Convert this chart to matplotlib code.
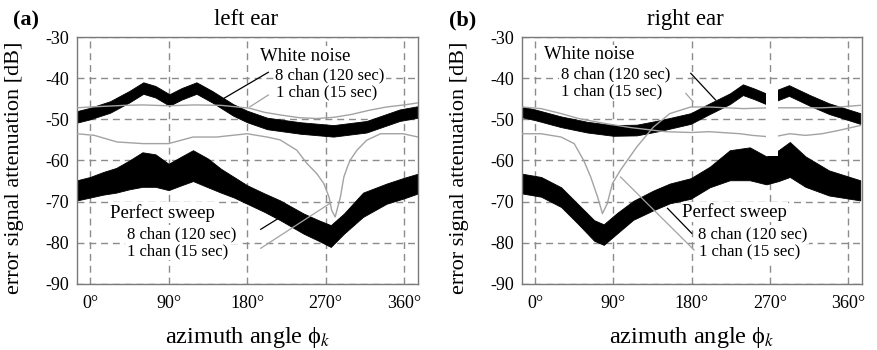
import matplotlib
matplotlib.use('Agg')
import matplotlib.pyplot as plt
from matplotlib.patches import Rectangle

plt.rcParams['font.family'] = ['Liberation Serif', 'DejaVu Serif']
plt.rcParams['mathtext.fontset'] = 'stix'

# ---------------- axis ticks ----------------
x_ticks = [0, 90, 180, 270, 360]
x_tick_labels = ['0°', '90°', '180°', '270°', '360°']
y_ticks = [-30, -40, -50, -60, -70, -80, -90]
y_tick_labels = ['-30', '-40', '-50', '-60', '-70', '-80', '-90']

# ---------------- left ear ----------------
# white noise, 8 chan (black band: upper / lower envelope)
L_wn8_az = [-15, 0, 23, 45, 61, 75, 91, 105, 122, 140, 164, 180, 203, 241, 279, 317, 355, 376]
L_wn8_hi = [-48.0, -47.2, -45.6, -43.1, -41.0, -41.9, -43.9, -42.4, -41.0, -43.1, -46.3, -47.9,
            -49.6, -50.7, -51.4, -50.4, -47.6, -46.8]
L_wn8_lo = [-50.8, -50.0, -48.4, -45.9, -43.8, -44.7, -46.7, -45.2, -43.8, -45.9, -49.1, -50.7,
            -52.4, -53.5, -54.2, -53.2, -50.4, -49.6]
# white noise, 1 chan (gray line)
L_wn1_az = [-15, 0, 20, 40, 60, 90, 120, 150, 183, 200, 220, 240, 260, 280, 300, 320, 340, 360, 376]
L_wn1 = [-47.2, -47.0, -46.8, -46.6, -46.5, -46.7, -46.5, -46.6, -47.3, -48.3, -49.0, -49.6, -49.8,
         -49.5, -48.8, -47.8, -47.0, -46.5, -46.0]
# perfect sweep, 8 chan (black band)
L_ps8_az = [-15, 0, 15, 30, 45, 60, 75, 90, 105, 118, 135, 150, 165, 180, 200, 218, 245, 262, 276,
            291, 313, 340, 360, 376]
L_ps8_hi = [-64.8, -64.0, -62.8, -61.8, -60.0, -58.0, -58.5, -60.8, -59.0, -57.5, -59.5, -62.0,
            -64.0, -66.0, -68.0, -69.7, -72.9, -74.5, -75.7, -72.9, -67.8, -65.6, -64.2, -63.2]
L_ps8_lo = [-69.7, -69.0, -68.3, -67.8, -67.0, -66.4, -66.4, -67.2, -66.0, -65.0, -66.5, -67.8,
            -69.0, -70.5, -72.5, -74.5, -77.8, -79.5, -81.0, -77.8, -73.7, -70.5, -69.2, -68.0]
# perfect sweep, 1 chan (gray line)
L_ps1_az = [-15, 5, 31, 61, 90, 118, 145, 180, 203, 218, 237, 249, 260, 268, 274, 277, 281, 287,
            291, 295, 298, 306, 317, 333, 359, 376]
L_ps1 = [-53.5, -53.9, -55.5, -55.9, -55.9, -54.3, -54.3, -53.5, -54.3, -55.0, -57.5, -60.8, -63.2,
         -65.6, -68.9, -72.1, -73.7, -68.9, -64.0, -61.6, -60.0, -57.5, -55.1, -53.5, -53.5, -54.3]

# ---------------- right ear ----------------
R_wn8_az = [-15, 0, 30, 60, 90, 117, 144, 179, 201, 224, 239, 252, 268, 280, 292, 316, 338, 374]
R_wn8_hi = [-46.9, -47.6, -49.3, -50.6, -51.4, -51.3, -50.2, -48.5, -46.1, -43.7, -41.5, -42.5,
            -43.9, -42.7, -41.7, -44.1, -46.1, -48.5]
R_wn8_lo = [-49.5, -50.2, -51.9, -53.2, -54.0, -53.9, -52.8, -51.1, -48.7, -46.3, -44.1, -45.1,
            -46.5, -45.3, -44.3, -46.7, -48.7, -51.1]
R_wn1_az = [-15, 7, 30, 50, 80, 110, 150, 180, 200, 236, 250, 273, 293, 311, 330, 349, 374]
R_wn1 = [-47.0, -47.4, -48.6, -49.8, -51.0, -52.0, -53.0, -53.2, -53.0, -53.5, -53.9, -54.3, -53.5,
         -53.9, -53.5, -52.7, -51.5]
R_ps8_az = [-15, 7, 30, 49, 68, 79, 94, 113, 136, 155, 179, 201, 224, 247, 266, 280, 293, 311, 338, 374]
R_ps8_hi = [-63.2, -64.0, -66.5, -70.5, -74.5, -75.5, -72.8, -69.8, -67.3, -65.6, -64.3, -61.5,
            -57.5, -56.8, -59.0, -57.5, -55.5, -59.0, -62.4, -64.8]
R_ps8_lo = [-68.0, -68.8, -71.3, -75.3, -79.5, -80.5, -77.8, -74.4, -72.1, -70.4, -69.3, -66.5,
            -64.8, -64.8, -65.8, -65.0, -64.0, -66.4, -68.5, -69.7]
R_ps1_az = [-15, 7, 30, 45, 56, 64, 72, 77.5, 83, 89, 98, 117, 136, 155, 179, 200, 240, 270, 300,
            330, 350, 374]
R_ps1 = [-53.5, -53.5, -54.3, -55.9, -60.0, -64.0, -68.9, -72.9, -70.5, -65.6, -62.4, -56.7, -51.9,
         -48.6, -47.0, -47.0, -47.4, -47.2, -47.2, -47.2, -47.0, -46.6]

panels = [
    dict(tag='(a)', title='left ear',
         wn8=(L_wn8_az, L_wn8_hi, L_wn8_lo), wn1=(L_wn1_az, L_wn1),
         ps8=(L_ps8_az, L_ps8_hi, L_ps8_lo), ps1=(L_ps1_az, L_ps1),
         wn_text=(194.9, -35.76, 212.1, -40.27, 213.3, -44.5),
         wn_ptr_k=((204.4, 150.2), (-38.57, -45.3)),
         wn_ptr_g=((204.4, 183.4), (-44.09, -46.93)),
         ps_text=(22.9, -73.89, 42.1, -78.9, 42.8, -82.95),
         ps_ptr_k=((195.7, 220.9), (-76.71, -73.41)),
         ps_ptr_g=((195.7, 275.2), (-81.32, -70.39)),
         gap=None),
    dict(tag='(b)', title='right ear',
         wn8=(R_wn8_az, R_wn8_hi, R_wn8_lo), wn1=(R_wn1_az, R_wn1),
         ps8=(R_ps8_az, R_ps8_hi, R_ps8_lo), ps1=(R_ps1_az, R_ps1),
         wn_text=(10.3, -35.42, 29.4, -40.03, 29.4, -44.26),
         wn_ptr_k=((179.1, 207.6), (-38.82, -45.3)),
         wn_ptr_g=((173.4, 181.7), (-43.7, -45.7)),
         ps_text=(168.8, -73.65, 187.8, -78.9, 188.6, -83.12),
         ps_ptr_k=((152.3, 180.2), (-71.61, -77.68)),
         ps_ptr_g=((98.3, 182.9), (-64.0, -81.74)),
         gap=(266, 279, -58.8, -41.3)),
]

fig = plt.figure(figsize=(8.77, 3.5), dpi=100)
ax_rects = [[77 / 877, 1 - 284 / 350, 341 / 877, 247 / 350],
            [522 / 877, 1 - 284 / 350, 340 / 877, 247 / 350]]
tag_pos = [(13 / 877, 1 - 25 / 350), (449 / 877, 1 - 25 / 350)]
title_pos = [(246 / 877, 1 - 25 / 350), (685 / 877, 1 - 25 / 350)]

gray = '#a3a3a3'
gridc = '#8c8c8c'
box = dict(fc='white', ec='none', pad=1.0)

for i, p in enumerate(panels):
    ax = fig.add_axes(ax_rects[i])
    ax.set_xlim(-15, 376)
    ax.set_ylim(-90, -30)
    ax.set_xticks(x_ticks)
    ax.set_xticklabels(x_tick_labels)
    ax.set_yticks(y_ticks)
    ax.set_yticklabels(y_tick_labels)
    ax.tick_params(length=0, labelsize=13)
    ax.tick_params(axis='x', pad=8)
    ax.tick_params(axis='y', pad=6)
    ax.set_axisbelow(True)
    ax.grid(True, color=gridc, linestyle=(0, (5, 3.5)), linewidth=1.0)
    for s in ax.spines.values():
        s.set_color('#7a7a7a')
        s.set_linewidth(1.0)

    az, hi, lo = p['wn8']
    ax.fill_between(az, lo, hi, color='black', lw=0.6, zorder=2)
    az, hi, lo = p['ps8']
    ax.fill_between(az, lo, hi, color='black', lw=0.6, zorder=2)
    az, v = p['wn1']
    ax.plot(az, v, color=gray, lw=1.0, zorder=3)
    az, v = p['ps1']
    ax.plot(az, v, color=gray, lw=1.0, zorder=3)

    if p['gap'] is not None:
        x0, x1, y0, y1 = p['gap']
        ax.add_patch(Rectangle((x0, y0), x1 - x0, y1 - y0, fc='white', ec='none', zorder=3.5))

    # annotations
    t = p['wn_text']
    ax.text(t[0], t[1], 'White noise', fontsize=13.5, zorder=4, bbox=box)
    ax.text(t[2], t[3], '8 chan (120 sec)', fontsize=12, zorder=4, bbox=box)
    ax.text(t[4], t[5], '1 chan (15 sec)', fontsize=12, zorder=4, bbox=box)
    t = p['ps_text']
    ax.text(t[0], t[1], 'Perfect sweep', fontsize=13.5, zorder=4, bbox=box)
    ax.text(t[2], t[3], '8 chan (120 sec)', fontsize=12, zorder=4, bbox=box)
    ax.text(t[4], t[5], '1 chan (15 sec)', fontsize=12, zorder=4, bbox=box)
    ax.plot(*p['wn_ptr_k'], color='black', lw=0.9, zorder=5)
    ax.plot(*p['wn_ptr_g'], color=gray, lw=0.9, zorder=5)
    ax.plot(*p['ps_ptr_k'], color='black', lw=0.9, zorder=5)
    ax.plot(*p['ps_ptr_g'], color=gray, lw=0.9, zorder=5)

    ax.set_ylabel('error signal attenuation [dB]', fontsize=16)
    ax.yaxis.set_label_coords(-0.155, 0.47)
    ax.set_xlabel('azimuth angle ϕ$_k$', fontsize=17.5)
    ax.xaxis.set_label_coords(0.5, -0.165)

    fig.text(*tag_pos[i], p['tag'], fontsize=16, fontweight='bold', va='baseline')
    fig.text(*title_pos[i], p['title'], fontsize=16.5, ha='center', va='baseline')

fig.savefig('out.png', dpi=100)
